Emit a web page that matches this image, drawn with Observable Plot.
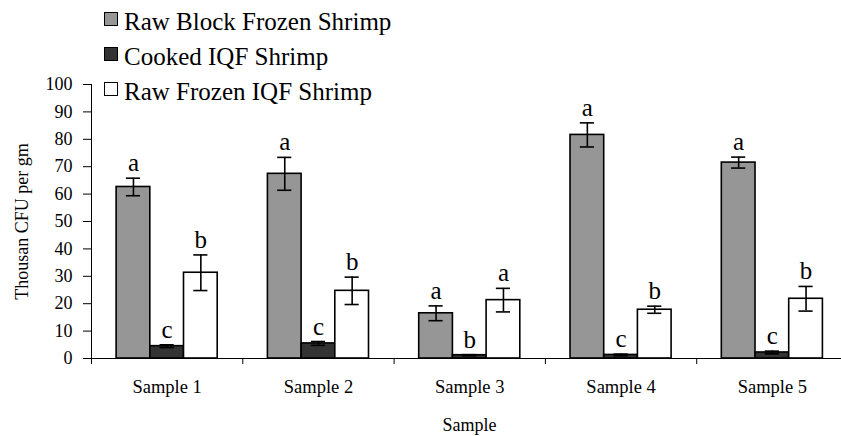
<!DOCTYPE html>
<html>
<head>
<meta charset="utf-8">
<script src="https://cdn.jsdelivr.net/npm/d3@7"></script>
<script src="https://cdn.jsdelivr.net/npm/@observablehq/plot@0.6"></script>
<style>
  html, body { margin: 0; padding: 0; background: #fff; }
  #wrap { position: relative; width: 841px; height: 436px; overflow: hidden; font-family: "Liberation Serif", "Times New Roman", serif; }
  #legend { position: absolute; left: 104px; top: 4px; }
  .row { display: flex; align-items: center; height: 35px; font-size: 25px; color: #000; white-space: nowrap; }
  .sw { width: 12px; height: 12px; border: 1px solid #000; margin-right: 6px; position: relative; top: -3px; }
</style>
</head>
<body>
<div id="wrap"><div id="legend"></div></div>
<script>
// ---- data ----
const samples = ["Sample 1", "Sample 2", "Sample 3", "Sample 4", "Sample 5"];
const series = ["Raw Block Frozen Shrimp", "Cooked IQF Shrimp", "Raw Frozen IQF Shrimp"];
const colors = ["#969696", "#333333", "#ffffff"];

const rawBlock    = [62.6, 67.4, 16.5, 81.6, 71.5];
const rawBlockErr = [3.2, 6.0, 2.7, 4.4, 2.0];
const rawBlockSig = ["a", "a", "a", "a", "a"];

const cooked      = [4.5, 5.5, 1.2, 1.3, 2.2];
const cookedErr   = [0.5, 0.7, 0.2, 0.3, 0.5];
const cookedSig   = ["c", "c", "b", "c", "c"];

const rawIQF      = [31.3, 24.7, 21.3, 17.8, 21.8];
const rawIQFErr   = [6.5, 5.0, 4.3, 1.3, 4.5];
const rawIQFSig   = ["b", "b", "a", "b", "b"];

const yTicks = [0, 10, 20, 30, 40, 50, 60, 70, 80, 90, 100];
const yTitle = "Thousan CFU per gm";
const xTitle = "Sample";

// ---- build table ----
const values = [rawBlock, cooked, rawIQF];
const errs = [rawBlockErr, cookedErr, rawIQFErr];
const sigs = [rawBlockSig, cookedSig, rawIQFSig];

// inner band (in group units) for the three series inside each sample group
const inner = d3.scaleBand().domain(series).range([0, 1]).paddingInner(0).paddingOuter(0.745);
const capHalf = inner.bandwidth() * 0.21;

const rows = [];
samples.forEach((s, i) => {
  series.forEach((k, j) => {
    const x1 = i + inner(k);
    const x2 = x1 + inner.bandwidth();
    rows.push({
      sample: s, series: k, value: values[j][i], err: errs[j][i], sig: sigs[j][i],
      x1, x2, xc: (x1 + x2) / 2
    });
  });
});

const groupBounds = d3.range(0, samples.length);
const groupCenters = samples.map((s, i) => ({ x: i + 0.5, label: s }));

const chart = Plot.plot({
  width: 841,
  height: 436,
  marginLeft: 91,
  marginRight: 0,
  marginTop: 84,
  marginBottom: 78,
  style: { fontFamily: "Liberation Serif, Times New Roman, serif", fontSize: "18px", background: "#fff", color: "#000" },
  x: { domain: [0, 4.957] },
  y: { domain: [0, 100] },
  color: { domain: series, range: colors },
  marks: [
    Plot.rect(rows, { x1: "x1", x2: "x2", y1: 0, y2: "value", fill: "series", stroke: "#000", strokeWidth: 1.6 }),
    // error bars
    Plot.ruleX(rows, { x: "xc", y1: d => d.value - d.err, y2: d => d.value + d.err, stroke: "#000", strokeWidth: 1.6 }),
    Plot.ruleY(rows, { y: d => d.value + d.err, x1: d => d.xc - capHalf, x2: d => d.xc + capHalf, stroke: "#000", strokeWidth: 1.6 }),
    Plot.ruleY(rows, { y: d => d.value - d.err, x1: d => d.xc - capHalf, x2: d => d.xc + capHalf, stroke: "#000", strokeWidth: 1.6 }),
    // significance letters
    Plot.text(rows, { x: "xc", y: d => d.value + d.err, text: "sig", dy: -7, lineAnchor: "bottom", fontSize: 25, fill: "#000" }),
    // axes lines
    Plot.ruleY([0], { stroke: "#000", strokeWidth: 1 }),
    Plot.ruleX([0], { y1: 0, y2: 100, stroke: "#000", strokeWidth: 1 }),
    // y ticks + labels
    Plot.axisY(yTicks, { tickSize: 8, tickFormat: () => "", label: null }),
    Plot.text(yTicks, { x: 0, y: d => d, text: d => String(d), textAnchor: "end", dx: -19, fontSize: 18, fill: "#000" }),
    // x boundary ticks + centered category labels
    Plot.axisX(groupBounds, { tickSize: 6, tickFormat: () => "", label: null }),
    Plot.text(groupCenters, { x: "x", y: 0, text: "label", lineAnchor: "middle", dy: 29, fontSize: 18.5, fill: "#000" }),
    // titles
    Plot.text([yTitle], { frameAnchor: "left", textAnchor: "middle", lineAnchor: "middle", rotate: -90, dx: -69, fontSize: 18, fill: "#000" }),
    Plot.text([xTitle], { frameAnchor: "bottom", textAnchor: "middle", lineAnchor: "middle", dx: 3, dy: 67, fontSize: 18, fill: "#000" })
  ]
});

const wrap = document.getElementById("wrap");
wrap.insertBefore(chart, wrap.firstChild);

const legend = document.getElementById("legend");
series.forEach((k, j) => {
  const row = document.createElement("div");
  row.className = "row";
  const sw = document.createElement("span");
  sw.className = "sw";
  sw.style.background = colors[j];
  const t = document.createElement("span");
  t.textContent = k;
  row.appendChild(sw);
  row.appendChild(t);
  legend.appendChild(row);
});
</script>
</body>
</html>
